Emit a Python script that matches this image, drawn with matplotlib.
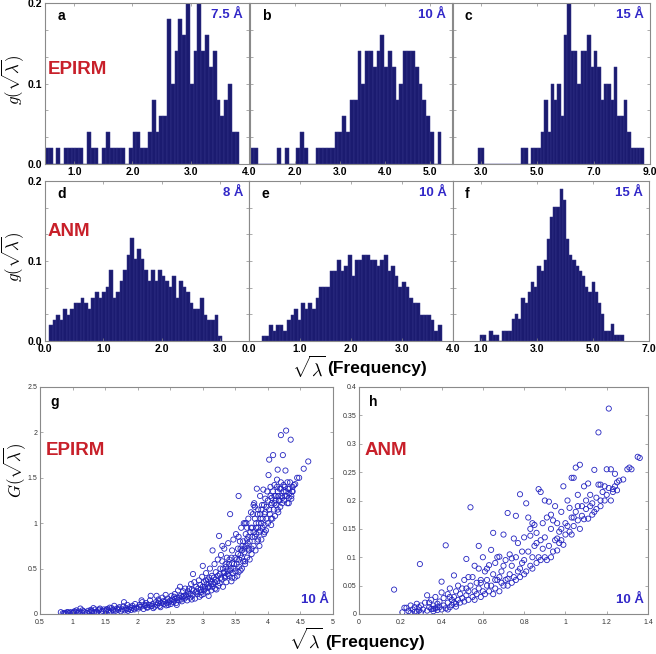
import matplotlib
matplotlib.use('Agg')
import matplotlib.pyplot as plt
import numpy as np

plt.rcParams['mathtext.fontset'] = 'cm'
plt.rcParams['font.family'] = ['Liberation Sans', 'DejaVu Sans']

# ---------------- data ----------------
# histogram heights g(sqrt(lambda)) per bin
a_heights = [0.02, 0.02, 0, 0.02, 0, 0.02, 0.02, 0.02, 0.02, 0.02,
             0, 0.04, 0.02, 0.02, 0, 0.02, 0.04, 0.02, 0.02, 0.02,
             0.02, 0, 0.02, 0.04, 0.04, 0.02, 0.02, 0.04, 0.08, 0.04,
             0.06, 0.06, 0.18, 0.10, 0.14, 0.18, 0.16, 0.20, 0.10, 0.14,
             0.20, 0.14, 0.16, 0.12, 0.14, 0.08, 0.06, 0.08, 0.10, 0.04, 0.04]
b_heights = [0.02, 0.02, 0, 0, 0, 0, 0, 0.02, 0, 0.02,
             0, 0, 0.02, 0.04, 0.02, 0, 0, 0.02, 0.02, 0.02,
             0.02, 0.02, 0.04, 0.04, 0.06, 0.04, 0.08, 0.08, 0.14, 0.10,
             0.14, 0.14, 0.12, 0.14, 0.16, 0.12, 0.14, 0.12, 0.08, 0.10,
             0.14, 0.14, 0.14, 0.12, 0.10, 0.08, 0.06, 0.04, 0, 0.04]
c_heights = [0.02, 0.02, 0, 0, 0, 0, 0, 0, 0, 0,
             0, 0, 0, 0.02, 0.02, 0, 0.02, 0.02, 0.02, 0.04,
             0.08, 0.04, 0.10, 0.08, 0.10, 0.06, 0.16, 0.20, 0.14, 0.14,
             0.10, 0.14, 0.14, 0.16, 0.12, 0.14, 0.12, 0.08, 0.10, 0.10,
             0.08, 0.12, 0.06, 0.06, 0.08, 0.04, 0.02, 0.02, 0.02, 0.02]
d_heights = [0.020, 0.026, 0.033, 0.026, 0.040, 0.033, 0.040, 0.047, 0.047, 0.054,
             0.047, 0.040, 0.054, 0.061, 0.054, 0.061, 0.068, 0.089, 0.054, 0.061,
             0.075, 0.089, 0.108, 0.129, 0.102, 0.115, 0.102, 0.089, 0.075, 0.089,
             0.075, 0.089, 0.081, 0.075, 0.068, 0.081, 0.054, 0.075, 0.068, 0.061,
             0.047, 0.040, 0.040, 0.054, 0.033, 0.026, 0.026, 0.033, 0.006]
e_heights = [0.006, 0.006, 0.020, 0.013, 0.020, 0.020, 0.013, 0.026, 0.033, 0.040,
             0.026, 0.047, 0.040, 0.047, 0.040, 0.054, 0.068, 0.068, 0.068, 0.087,
             0.087, 0.101, 0.087, 0.094, 0.107, 0.081, 0.101, 0.101, 0.107, 0.107,
             0.101, 0.101, 0.094, 0.101, 0.107, 0.087, 0.094, 0.081, 0.068, 0.074,
             0.068, 0.054, 0.047, 0.047, 0.033, 0.033, 0.033, 0.026, 0.013, 0.020]
f_heights = [0.007, 0.007, 0, 0.013, 0.007, 0.007, 0, 0.013, 0.013, 0.013,
             0.027, 0.034, 0.027, 0.054, 0.047, 0.061, 0.074, 0.067, 0.094, 0.088,
             0.101, 0.128, 0.155, 0.168, 0.168, 0.190, 0.176, 0.128, 0.108, 0.101,
             0.094, 0.088, 0.081, 0.067, 0.061, 0.074, 0.061, 0.047, 0.034, 0.013,
             0.013, 0.021, 0.007, 0.007, 0.007]

# tick values
a_xticks = [1.0, 2.0, 3.0, 4.0]
b_xticks = [2.0, 3.0, 4.0, 5.0]
c_xticks = [3.0, 5.0, 7.0, 9.0]
d_xticks = [0.0, 1.0, 2.0, 3.0]
e_xticks = [0.0, 1.0, 2.0, 3.0, 4.0]
f_xticks = [1.0, 3.0, 5.0, 7.0]
hist_ylabels = [0.0, 0.1, 0.2]
g_xticks = [0.5, 1, 1.5, 2, 2.5, 3, 3.5, 4, 4.5, 5]
g_yticks = [0, 0.5, 1, 1.5, 2, 2.5]
h_xticks = [0, 0.2, 0.4, 0.6, 0.8, 1, 1.2, 1.4]
h_yticks = [0, 0.05, 0.1, 0.15, 0.2, 0.25, 0.3, 0.35, 0.4]

# scatter G(sqrt(lambda)) - EPIRM 10 A
g_x = [0.82, 0.85, 0.88, 0.9, 0.93, 0.95, 0.97, 0.99, 0.87, 0.92,
       1.01, 1.03, 1.05, 1.08, 1.1, 1.12, 1.14, 1.17, 1.19, 1.22, 1.24, 1.06,
       1.26, 1.28, 1.3, 1.33, 1.35, 1.37, 1.4, 1.42, 1.44, 1.46, 1.48, 1.32, 1.38,
       1.51, 1.53, 1.55, 1.57, 1.59, 1.62, 1.64, 1.66, 1.68, 1.7, 1.72, 1.74, 1.6, 1.56,
       1.76, 1.78, 1.8, 1.82, 1.84, 1.86, 1.88, 1.9, 1.92, 1.94, 1.96, 1.98, 1.79, 1.85, 1.95,
       2.01, 2.03, 2.05, 2.07, 2.09, 2.11, 2.13, 2.15, 2.17, 2.19, 2.21, 2.23, 2.24, 2.06, 2.14, 2.2,
       2.26, 2.28, 2.3, 2.32, 2.34, 2.36, 2.38, 2.4, 2.42, 2.44, 2.46, 2.48, 2.29, 2.35, 2.43, 2.47, 2.33,
       2.51, 2.53, 2.55, 2.57, 2.59, 2.61, 2.63, 2.65, 2.66, 2.68, 2.7, 2.72, 2.74, 2.56, 2.62, 2.69, 2.73, 2.52, 2.6,
       2.76, 2.78, 2.8, 2.82, 2.84, 2.85, 2.86, 2.88, 2.9, 2.92, 2.94, 2.95, 2.97, 2.99, 2.79, 2.83, 2.91, 2.96, 2.98, 2.87,
       3.0, 3.01, 3.02, 3.04, 3.05, 3.07, 3.08, 3.1, 3.11, 3.13, 3.14, 3.15, 3.16, 3.18, 3.19, 3.2, 3.22, 3.23, 3.24, 3.25,
       3.03, 3.09, 3.12, 3.17, 3.21, 3.06,
       3.26, 3.27, 3.28, 3.29, 3.3, 3.31, 3.32, 3.33, 3.34, 3.35, 3.36, 3.37, 3.38, 3.39, 3.4, 3.41, 3.42, 3.43, 3.44,
       3.45, 3.46, 3.47, 3.48, 3.49, 3.3, 3.35, 3.44,
       3.5, 3.51, 3.52, 3.53, 3.54, 3.55, 3.56, 3.57, 3.58, 3.59, 3.6, 3.61, 3.62, 3.63, 3.64, 3.65, 3.66, 3.67, 3.68,
       3.69, 3.7, 3.71, 3.72, 3.73, 3.74, 3.55, 3.6, 3.65, 3.7, 3.58, 3.68,
       3.75, 3.76, 3.77, 3.78, 3.79, 3.8, 3.81, 3.82, 3.83, 3.84, 3.85, 3.86, 3.87, 3.88, 3.89, 3.9, 3.91, 3.92, 3.93,
       3.94, 3.95, 3.96, 3.97, 3.98, 3.99, 3.78, 3.8, 3.85, 3.9, 3.95, 3.82, 3.88,
       4.0, 4.01, 4.02, 4.03, 4.04, 4.05, 4.06, 4.07, 4.08, 4.09, 4.1, 4.11, 4.12, 4.13, 4.14, 4.15, 4.16, 4.17, 4.18,
       4.19, 4.2, 4.21, 4.22, 4.23, 4.24, 4.05, 4.1, 4.15, 4.2,
       4.25, 4.26, 4.27, 4.28, 4.29, 4.3, 4.31, 4.32, 4.33, 4.34, 4.35, 4.36, 4.37, 4.38, 4.4, 4.42, 4.45, 4.48, 4.55,
       4.62, 4.28, 4.32, 4.36,
       2.55, 2.58, 2.64, 2.67, 2.71, 2.75, 2.77, 2.81, 2.83, 2.89, 2.93, 2.97, 3.0, 3.02, 3.05, 3.08, 3.1, 3.13,
       3.15, 3.18, 3.2, 3.23, 3.26, 3.28, 3.31, 3.33, 3.36, 3.38, 3.4, 3.42, 3.45, 3.47, 3.5, 3.52, 3.54, 3.56,
       3.58, 3.6, 3.62, 3.64, 3.66, 3.68, 3.7, 3.72, 3.74, 3.76, 3.78, 3.8, 3.82, 3.84, 3.86, 3.88, 3.9, 3.92,
       3.94, 3.96, 3.98, 4.0, 4.02, 4.04, 4.06, 4.08, 4.1, 4.12, 4.14, 4.16, 4.18, 4.2, 4.22, 4.24, 4.26, 4.3,
       4.33, 4.38, 3.45, 3.55, 3.65, 3.75, 3.85, 3.95, 4.05, 4.15,
       1.02, 1.15, 1.29, 1.41, 1.52, 1.63, 1.71, 1.83, 1.91, 2.02, 2.12, 2.22, 2.31, 2.39, 2.45, 2.5]
g_y = [0.02, 0.008, 0.012, 0.005, 0.015, 0.01, 0.02, 0.008, 0.004, 0.022,
       0.012, 0.03, 0.018, 0.01, 0.025, 0.06, 0.015, 0.03, 0.02, 0.012, 0.035, 0.04,
       0.02, 0.045, 0.03, 0.018, 0.05, 0.025, 0.04, 0.06, 0.022, 0.035, 0.05, 0.065, 0.015,
       0.03, 0.055, 0.04, 0.07, 0.025, 0.05, 0.09, 0.035, 0.06, 0.045, 0.075, 0.03, 0.065, 0.02,
       0.05, 0.085, 0.04, 0.065, 0.1, 0.055, 0.075, 0.045, 0.09, 0.06, 0.11, 0.07, 0.13, 0.035, 0.05,
       0.06, 0.1, 0.08, 0.13, 0.055, 0.09, 0.12, 0.07, 0.1, 0.15, 0.085, 0.11, 0.065, 0.15, 0.075, 0.2,
       0.08, 0.13, 0.1, 0.16, 0.09, 0.12, 0.18, 0.11, 0.14, 0.095, 0.17, 0.13, 0.2, 0.075, 0.21, 0.1, 0.14,
       0.11, 0.16, 0.13, 0.22, 0.12, 0.18, 0.15, 0.3, 0.2, 0.14, 0.25, 0.17, 0.21, 0.19, 0.26, 0.19, 0.28, 0.2, 0.1,
       0.15, 0.22, 0.18, 0.33, 0.2, 0.44, 0.26, 0.17, 0.3, 0.22, 0.37, 0.19, 0.27, 0.41, 0.28, 0.16, 0.25, 0.32, 0.21, 0.35,
       0.53, 0.22, 0.35, 0.28, 0.45, 0.24, 0.38, 0.3, 0.5, 0.26, 0.42, 0.7, 0.33, 0.55, 0.28, 0.46, 0.36, 0.6, 0.31, 0.86,
       0.3, 0.2, 0.36, 0.4, 0.27, 0.33,
       0.34, 0.5, 0.65, 0.38, 0.58, 0.3, 0.45, 0.72, 0.4, 0.55, 0.35, 0.62, 0.48, 0.78, 0.42, 0.6, 1.1, 0.5, 0.36,
       0.7, 0.45, 0.82, 0.55, 0.4, 0.75, 0.42, 0.62,
       0.47, 0.88, 0.6, 0.42, 0.72, 1.3, 0.52, 0.8, 0.65, 0.95, 0.5, 0.75, 0.58, 1.0, 0.68, 0.55, 0.88, 1.0, 0.62,
       0.78, 1.05, 0.7, 0.6, 0.9, 1.12, 0.85, 0.7, 1.0, 0.85, 0.48, 0.95,
       0.66, 0.95, 1.1, 0.75, 1.22, 0.85, 0.7, 1.0, 1.38, 0.8, 1.15, 0.9, 0.75, 1.3, 1.05, 0.82, 1.2, 0.95, 1.37,
       0.88, 1.1, 1.27, 0.92, 1.05, 1.35, 1.2, 1.18, 0.95, 1.0, 0.98, 0.88, 0.92,
       1.0, 1.53, 1.7, 1.1, 1.4, 0.98, 1.28, 1.05, 1.75, 1.15, 1.42, 1.08, 1.3, 1.2, 1.48, 1.59, 1.12, 1.25, 1.38,
       1.18, 1.97, 1.3, 1.22, 1.75, 1.35, 1.2, 1.22, 1.35, 1.45,
       1.25, 1.4, 1.58, 2.02, 1.3, 1.22, 1.38, 1.28, 1.33, 1.45, 1.92, 1.3, 1.35, 1.4, 1.42, 1.43, 1.5, 1.5, 1.6,
       1.68, 1.35, 1.22, 1.27,
       0.15, 0.17, 0.18, 0.16, 0.2, 0.19, 0.25, 0.22, 0.27, 0.24, 0.28, 0.24, 0.3, 0.26, 0.37, 0.29, 0.4, 0.33,
       0.3, 0.35, 0.38, 0.42, 0.44, 0.4, 0.5, 0.46, 0.52, 0.44, 0.55, 0.48, 0.56, 0.5, 0.62, 0.55, 0.66, 0.6,
       0.72, 0.62, 0.8, 0.72, 0.75, 0.82, 0.72, 0.8, 0.95, 0.85, 0.9, 1.05, 0.95, 1.1, 1.0, 1.1, 1.15, 1.05,
       1.2, 1.12, 1.18, 1.25, 1.15, 1.3, 1.22, 1.35, 1.3, 1.25, 1.4, 1.3, 1.25, 1.38, 1.28, 1.42, 1.3, 1.45,
       1.38, 1.35, 0.4, 0.46, 0.58, 0.72, 0.82, 0.9, 1.05, 1.15,
       0.02, 0.04, 0.03, 0.05, 0.045, 0.04, 0.06, 0.05, 0.07, 0.08, 0.1, 0.09, 0.12, 0.14, 0.12, 0.15]

# scatter G(sqrt(lambda)) - ANM 10 A
h_x = [0.17, 0.295,
       0.21, 0.22, 0.23, 0.24, 0.25, 0.26, 0.27, 0.28, 0.28, 0.29, 0.3, 0.27, 0.29, 0.3, 0.25,
       0.31, 0.32, 0.33, 0.33, 0.34, 0.35, 0.35, 0.36, 0.36, 0.37, 0.37, 0.38, 0.38, 0.39, 0.39, 0.4, 0.4, 0.4,
       0.34, 0.36, 0.38,
       0.41, 0.41, 0.42, 0.42, 0.43, 0.43, 0.44, 0.44, 0.45, 0.45, 0.46, 0.46, 0.46, 0.47, 0.47, 0.48, 0.48, 0.49,
       0.49, 0.5, 0.5, 0.44, 0.47, 0.43,
       0.51, 0.51, 0.52, 0.52, 0.53, 0.53, 0.54, 0.54, 0.55, 0.55, 0.56, 0.56, 0.57, 0.57, 0.58, 0.58, 0.58, 0.59,
       0.59, 0.6, 0.6, 0.53, 0.56, 0.59, 0.52,
       0.61, 0.61, 0.62, 0.62, 0.63, 0.63, 0.64, 0.64, 0.65, 0.65, 0.65, 0.66, 0.66, 0.67, 0.67, 0.68, 0.68, 0.69,
       0.69, 0.7, 0.7, 0.7, 0.62, 0.66, 0.68,
       0.71, 0.71, 0.72, 0.72, 0.73, 0.73, 0.74, 0.74, 0.75, 0.75, 0.76, 0.76, 0.76, 0.77, 0.77, 0.78, 0.78, 0.79,
       0.79, 0.8, 0.8, 0.74, 0.78, 0.72, 0.8,
       0.81, 0.81, 0.82, 0.82, 0.83, 0.83, 0.84, 0.84, 0.85, 0.85, 0.86, 0.86, 0.87, 0.87, 0.88, 0.88, 0.88, 0.89,
       0.89, 0.9, 0.9, 0.9, 0.84, 0.86, 0.83,
       0.91, 0.91, 0.92, 0.92, 0.93, 0.93, 0.94, 0.94, 0.95, 0.95, 0.96, 0.96, 0.97, 0.97, 0.98, 0.98, 0.99, 0.99,
       1.0, 1.0, 0.93, 0.96, 0.98,
       1.01, 1.01, 1.02, 1.02, 1.03, 1.03, 1.04, 1.04, 1.05, 1.05, 1.06, 1.06, 1.07, 1.07, 1.08, 1.08, 1.09, 1.09,
       1.1, 1.1, 1.03, 1.06, 1.04,
       1.11, 1.11, 1.12, 1.12, 1.13, 1.14, 1.14, 1.15, 1.15, 1.16, 1.16, 1.17, 1.17, 1.18, 1.19, 1.19, 1.2, 1.2,
       1.13, 1.17,
       1.21, 1.21, 1.22, 1.23, 1.23, 1.24, 1.24, 1.25, 1.26, 1.28, 1.3, 1.31, 1.32, 1.35, 1.36, 1.22, 1.25]
h_y = [0.043, 0.088,
       0.003, 0.011, 0.011, 0.005, 0.002, 0.008, 0.012, 0.004, 0.018, 0.006, 0.015, 0.004, 0.012, 0.003, 0.015,
       0.008, 0.02, 0.006, 0.033, 0.012, 0.009, 0.025, 0.005, 0.015, 0.01, 0.03, 0.018, 0.007, 0.022, 0.012, 0.038,
       0.008, 0.057, 0.02, 0.009, 0.012,
       0.015, 0.028, 0.01, 0.121, 0.02, 0.035, 0.012, 0.045, 0.025, 0.016, 0.068, 0.03, 0.02, 0.018, 0.04, 0.025,
       0.05, 0.02, 0.035, 0.028, 0.045, 0.03, 0.013, 0.008,
       0.06, 0.022, 0.033, 0.097, 0.04, 0.025, 0.188, 0.05, 0.03, 0.065, 0.04, 0.025, 0.055, 0.035, 0.12, 0.045,
       0.08, 0.03, 0.06, 0.04, 0.1, 0.065, 0.085, 0.055, 0.045,
       0.035, 0.075, 0.05, 0.06, 0.04, 0.086, 0.113, 0.05, 0.035, 0.07, 0.143, 0.045, 0.09, 0.06, 0.1, 0.04, 0.101,
       0.075, 0.055, 0.14, 0.085, 0.05, 0.08, 0.06, 0.065,
       0.06, 0.095, 0.178, 0.05, 0.07, 0.105, 0.055, 0.085, 0.133, 0.065, 0.173, 0.06, 0.1, 0.125, 0.075, 0.211,
       0.065, 0.09, 0.11, 0.07, 0.135, 0.098, 0.08, 0.062, 0.095,
       0.195, 0.075, 0.11, 0.17, 0.085, 0.138, 0.16, 0.08, 0.12, 0.157, 0.09, 0.143, 0.22, 0.1, 0.13, 0.215, 0.095,
       0.115, 0.16, 0.1, 0.2, 0.135, 0.1, 0.125, 0.15,
       0.17, 0.095, 0.12, 0.198, 0.1, 0.15, 0.165, 0.11, 0.13, 0.19, 0.112, 0.16, 0.125, 0.145, 0.18, 0.13, 0.225,
       0.122, 0.16, 0.14, 0.175, 0.133, 0.15,
       0.155, 0.2, 0.145, 0.187, 0.24, 0.14, 0.17, 0.24, 0.258, 0.18, 0.165, 0.21, 0.263, 0.15, 0.19, 0.173, 0.225,
       0.167, 0.185, 0.2, 0.17, 0.19, 0.155,
       0.168, 0.23, 0.19, 0.21, 0.195, 0.254, 0.18, 0.205, 0.185, 0.32, 0.228, 0.2, 0.19, 0.215, 0.2, 0.225, 0.255,
       0.21, 0.175, 0.228,
       0.362, 0.222, 0.255, 0.22, 0.215, 0.247, 0.225, 0.232, 0.235, 0.237, 0.255, 0.258, 0.255, 0.277, 0.275, 0.2,
       0.218]

# ---------------- layout / style ----------------
W, H = 656, 654
fig = plt.figure(figsize=(W / 100, H / 100), dpi=100)


def rect(l, t, r, b):
    return [l / W, 1 - b / H, (r - l) / W, (b - t) / H]


def ftext(x, y, s, **kw):
    fig.text(x / W, 1 - y / H, s, **kw)


BAR = '#1b1b70'
BAR_EDGE = '#34348a'
SPINE = '#8a8a8a'
BLUE = '#3228c8'
RED = '#c8202a'

hist_panels = [
    # heights, bin start, bin width, xlim, xticks, rect(px), letter, distance label, show y labels
    (a_heights, 0.50, 0.0654, (0.5, 4.0), a_xticks, (45, 3, 249, 164), 'a', '7.5 Å', True),
    (b_heights, 1.015, 0.085, (1.0, 5.5), b_xticks, (250, 3, 452, 164), 'b', '10 Å', False),
    (c_heights, 2.88, 0.118, (2.0, 9.0), c_xticks, (453, 3, 650, 164), 'c', '15 Å', False),
    (d_heights, 0.074, 0.0603, (0.0, 3.5), d_xticks, (45, 181, 249, 341), 'd', '8 Å', True),
    (e_heights, 0.25, 0.0705, (0.0, 4.0), e_xticks, (249, 181, 453, 341), 'e', '10 Å', False),
    (f_heights, 0.96, 0.114, (0.0, 7.0), f_xticks, (453, 181, 649, 341), 'f', '15 Å', False),
]

for heights, start, width, xlim, xticks, r, letter, dist, showy in hist_panels:
    ax = fig.add_axes(rect(*r))
    xs = start + width * np.arange(len(heights))
    ax.bar(xs, heights, width=width, align='edge', color=BAR,
           edgecolor=BAR_EDGE, linewidth=0.35)
    ax.set_xlim(*xlim)
    ax.set_ylim(0, 0.2)
    ax.set_xticks(xticks)
    ax.set_xticklabels(['%.1f' % v for v in xticks], fontsize=7.5, fontweight='bold')
    yt = np.linspace(0, 0.2, 7)
    ax.set_yticks(yt)
    if showy:
        labs = []
        for v in yt:
            m = [lv for lv in hist_ylabels if abs(lv - v) < 1e-6]
            labs.append('%.1f' % m[0] if m else '')
        ax.set_yticklabels(labs, fontsize=7.5, fontweight='bold')
    else:
        ax.set_yticklabels([])
    ax.tick_params(direction='in', top=True, right=True, length=2.5, width=0.5,
                   color=SPINE, pad=2)
    for s in ax.spines.values():
        s.set_color(SPINE)
        s.set_linewidth(0.8)
    ax.text(0.06, 0.92, letter, transform=ax.transAxes, fontsize=10,
            fontweight='bold', va='center', ha='left')
    ax.text(0.97, 0.925, dist, transform=ax.transAxes, fontsize=9.5,
            fontweight='bold', color=BLUE, va='center', ha='right')

# model labels and axis labels (top rows)
ftext(48, 70, 'EPIRM', fontsize=13.5, fontweight='bold', color=RED, va='center', ha='left')
ftext(48, 231, 'ANM', fontsize=13.5, fontweight='bold', color=RED, va='center', ha='left')
ftext(13, 80, r'$g(\sqrt{\lambda})$', fontsize=12, rotation=90, va='center', ha='center')
ftext(13, 257, r'$g(\sqrt{\lambda})$', fontsize=12, rotation=90, va='center', ha='center')
ftext(309, 368, r'$\sqrt{\lambda}$', fontsize=13, va='center', ha='center')
ftext(327, 368, '(Frequency)', fontsize=12.5, fontweight='bold', va='center', ha='left')

# ---------------- scatter panels ----------------
scatter_panels = [
    (g_x, g_y, (0.5, 5), (0, 2.5), g_xticks, g_yticks, (40, 387, 333, 614), 'g', 'EPIRM'),
    (h_x, h_y, (0, 1.4), (0, 0.4), h_xticks, h_yticks, (359, 387, 648, 614), 'h', 'ANM'),
]


def fmt(v):
    return ('%.2f' % v).rstrip('0').rstrip('.')


for xs, ys, xlim, ylim, xt, yt, r, letter, model in scatter_panels:
    ax = fig.add_axes(rect(*r))
    ax.scatter(xs, ys, s=14, facecolors='none', edgecolors='#2424c0', linewidths=0.6)
    ax.set_xlim(*xlim)
    ax.set_ylim(*ylim)
    ax.set_xticks(xt)
    ax.set_xticklabels([fmt(v) for v in xt], fontsize=5, color='#333333')
    ax.set_yticks(yt)
    ax.set_yticklabels([fmt(v) for v in yt], fontsize=5, color='#333333')
    ax.tick_params(direction='in', top=True, right=True, length=2.5, width=0.5,
                   color=SPINE, pad=2)
    ax.tick_params(axis='x', pad=3.5)
    for s in ax.spines.values():
        s.set_color(SPINE)
        s.set_linewidth(0.8)
    ax.text(0.035, 0.935, letter, transform=ax.transAxes, fontsize=10,
            fontweight='bold', va='center', ha='left')
    ax.text(0.02, 0.72, model, transform=ax.transAxes, fontsize=13.5,
            fontweight='bold', color=RED, va='center', ha='left')
    ax.text(0.985, 0.06, '10 Å', transform=ax.transAxes, fontsize=9.5,
            fontweight='bold', color=BLUE, va='center', ha='right')

ftext(15, 470, r'$G(\sqrt{\lambda})$', fontsize=12, rotation=90, va='center', ha='center')
ftext(306, 640, r'$\sqrt{\lambda}$', fontsize=13, va='center', ha='center')
ftext(325, 642, '(Frequency)', fontsize=12.5, fontweight='bold', va='center', ha='left')

fig.savefig('out.png', dpi=100)
